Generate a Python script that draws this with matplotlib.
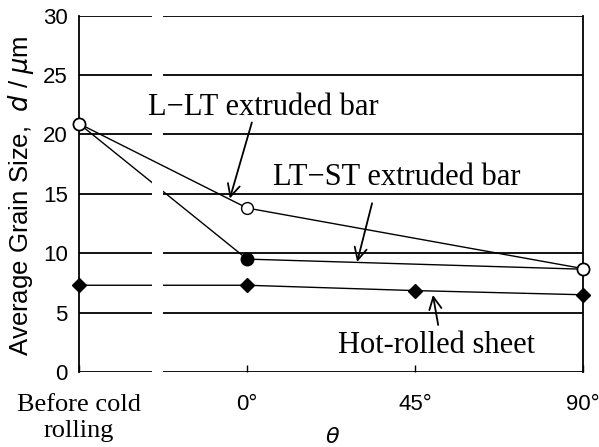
import matplotlib
matplotlib.use("Agg")
import matplotlib.pyplot as plt

# data (theta in degrees, "before cold rolling" put at -45)
x_pos = [-45, 0, 45, 90]
x_labels = ["Before cold\nrolling", "0°", "45°", "90°"]

llt_x = [-45, 0, 90]
llt_d = [20.9, 13.8, 8.7]

ltst_x = [-45, 0, 90]
ltst_d = [20.9, 9.5, 8.65]

hot_x = [-45, 0, 45, 90]
hot_d = [7.3, 7.3, 6.85, 6.5]

y_ticks = [0, 5, 10, 15, 20, 25, 30]

sans = "Liberation Sans"
serif = "Liberation Serif"

fig = plt.figure(figsize=(5.99, 4.47), dpi=100)
ax = fig.add_axes([0.1319, 0.1678, 0.8414, 0.7975])

ax.set_xlim(-45, 90)
ax.set_ylim(0, 30)

# horizontal grid incl. top/bottom frame lines
for yv in y_ticks:
    ax.axhline(yv, color="black", lw=1.3, zorder=1)
for s in ["top", "bottom"]:
    ax.spines[s].set_visible(False)
for s in ["left", "right"]:
    ax.spines[s].set_linewidth(1.3)

ax.plot(hot_x, hot_d, color="black", lw=1.0, marker="D", ms=7,
        mfc="black", mec="black", zorder=3, clip_on=False)
ax.plot(ltst_x, ltst_d, color="black", lw=1.0, marker="o", ms=9,
        mfc="black", mec="black", zorder=3, clip_on=False)
ax.plot(llt_x, llt_d, color="black", lw=1.0, marker="o", ms=8.5,
        mfc="white", mec="black", mew=1.0, zorder=4, clip_on=False)

# axis break
ax.axvspan(-25.4, -22.5, color="white", zorder=3.5, lw=0)

ax.set_yticks(y_ticks)
ax.set_yticklabels([str(v) for v in y_ticks], fontfamily=sans, fontsize=16)
ax.tick_params(axis="y", length=0, pad=8)

ax.set_xticks(x_pos)
ax.set_xticklabels(x_labels, fontfamily=sans, fontsize=16)
ax.tick_params(axis="x", direction="in", length=5, width=1.0, pad=16)
lbl = ax.get_xticklabels()[0]
lbl.set_fontfamily(serif)
lbl.set_fontsize(19)
lbl.set_linespacing(1.25)

fig.text(21 / 599, 1 - 196 / 447, "Average Grain Size,  $d$ / $\\mu$m",
         fontfamily=sans, fontsize=18.5, rotation=90, ha="center", va="center")

fig.text(333 / 599, 1 - 437 / 447, "$\\theta$", fontsize=16, ha="center", va="center")

# labels with arrows
tfont = dict(fontfamily=serif, fontsize=22, ha="left", va="baseline", zorder=6)
ax.text(-26.5, 21.6, "L\u2212LT extruded bar", **tfont)
ax.text(7.0, 15.7, "LT\u2212ST extruded bar", **tfont)
ax.text(24.4, 1.6, "Hot-rolled sheet", **tfont)

ap = dict(arrowstyle="->", lw=1.3, color="black", mutation_scale=22, shrinkA=0, shrinkB=0)
ax.annotate("", xy=(-4.6, 14.6), xytext=(1.3, 21.0), arrowprops=ap, zorder=5)
ax.annotate("", xy=(29.5, 9.26), xytext=(33.5, 14.2), arrowprops=ap, zorder=5)
ax.annotate("", xy=(49.8, 6.48), xytext=(51.2, 3.96), arrowprops=ap, zorder=5)

fig.savefig("out.png", dpi=100)
